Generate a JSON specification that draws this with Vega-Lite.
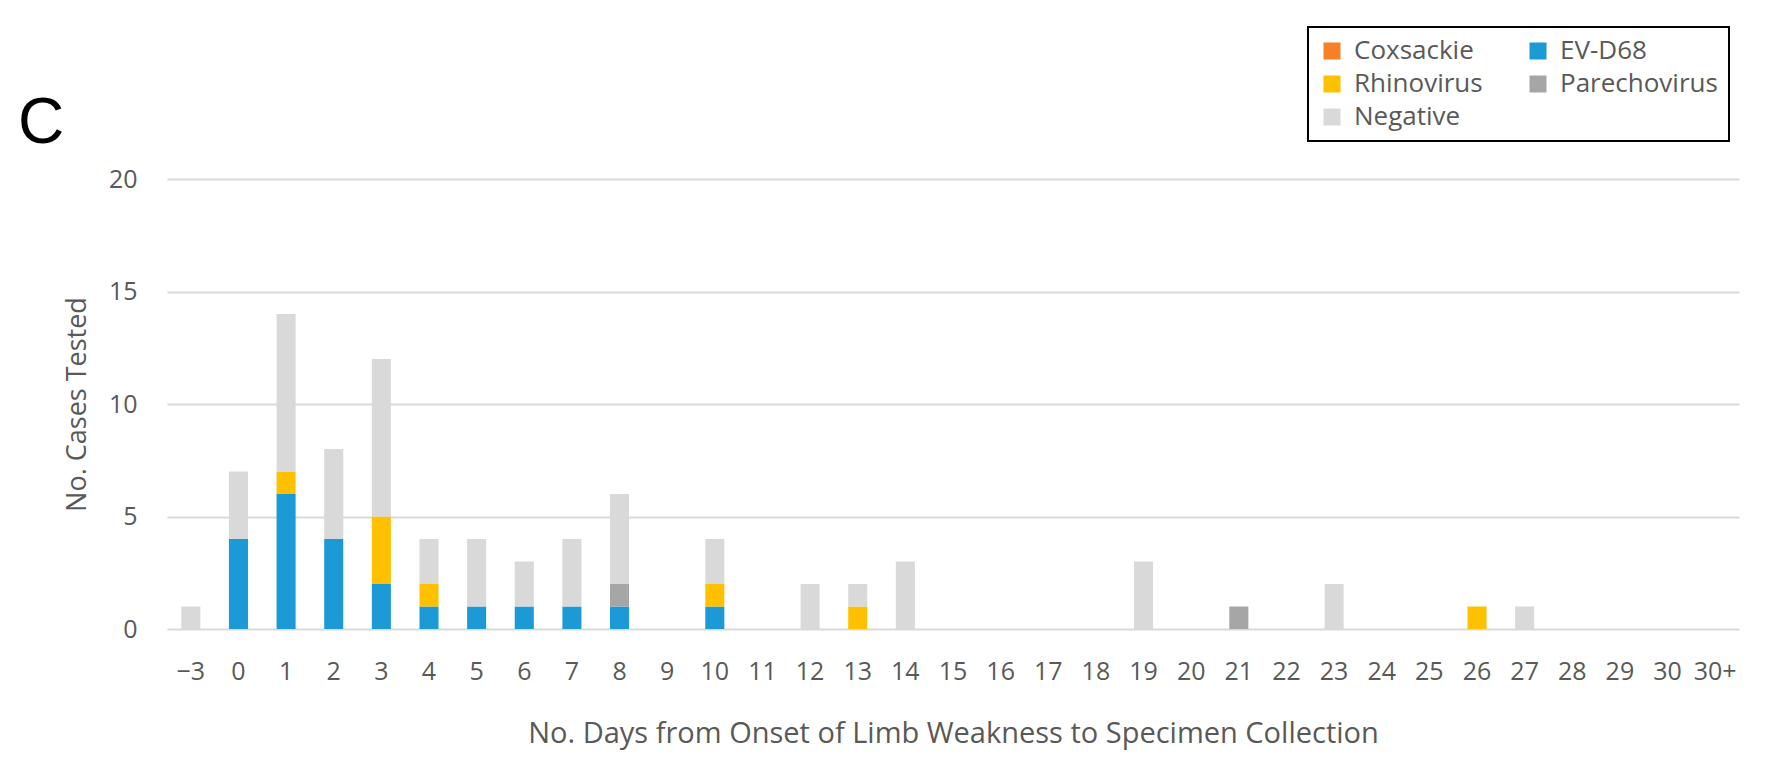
{
  "$schema": "https://vega.github.io/schema/vega-lite/v6.json",
  "width": 1572,
  "height": 450,
  "autosize": {"type": "none"},
  "padding": {"left": 167, "top": 179, "right": 42, "bottom": 131},
  "background": "white",
  "title": {"text": "C", "anchor": "start", "frame": "group", "orient": "top", "font": "Liberation Sans", "fontSize": 64, "fontWeight": "normal", "color": "#000000", "dx": -149, "offset": 29, "dy": 210, "baseline": "alphabetic"},
  "data": {
    "values": [
      {"day": "−3", "type": "Negative", "n": 1},
      {"day": "0", "type": "EV-D68", "n": 4},
      {"day": "0", "type": "Negative", "n": 3},
      {"day": "1", "type": "EV-D68", "n": 6},
      {"day": "1", "type": "Rhinovirus", "n": 1},
      {"day": "1", "type": "Negative", "n": 7},
      {"day": "2", "type": "EV-D68", "n": 4},
      {"day": "2", "type": "Negative", "n": 4},
      {"day": "3", "type": "EV-D68", "n": 2},
      {"day": "3", "type": "Rhinovirus", "n": 3},
      {"day": "3", "type": "Negative", "n": 7},
      {"day": "4", "type": "EV-D68", "n": 1},
      {"day": "4", "type": "Rhinovirus", "n": 1},
      {"day": "4", "type": "Negative", "n": 2},
      {"day": "5", "type": "EV-D68", "n": 1},
      {"day": "5", "type": "Negative", "n": 3},
      {"day": "6", "type": "EV-D68", "n": 1},
      {"day": "6", "type": "Negative", "n": 2},
      {"day": "7", "type": "EV-D68", "n": 1},
      {"day": "7", "type": "Negative", "n": 3},
      {"day": "8", "type": "EV-D68", "n": 1},
      {"day": "8", "type": "Parechovirus", "n": 1},
      {"day": "8", "type": "Negative", "n": 4},
      {"day": "10", "type": "EV-D68", "n": 1},
      {"day": "10", "type": "Rhinovirus", "n": 1},
      {"day": "10", "type": "Negative", "n": 2},
      {"day": "12", "type": "Negative", "n": 2},
      {"day": "13", "type": "Rhinovirus", "n": 1},
      {"day": "13", "type": "Negative", "n": 1},
      {"day": "14", "type": "Negative", "n": 3},
      {"day": "19", "type": "Negative", "n": 3},
      {"day": "21", "type": "Parechovirus", "n": 1},
      {"day": "23", "type": "Negative", "n": 2},
      {"day": "26", "type": "Rhinovirus", "n": 1},
      {"day": "27", "type": "Negative", "n": 1}
    ]
  },
  "transform": [
    {"calculate": "indexof(['Coxsackie', 'EV-D68', 'Rhinovirus', 'Parechovirus', 'Negative'], datum.type)", "as": "stackOrder"}
  ],
  "mark": {"type": "bar"},
  "encoding": {
    "x": {
      "field": "day",
      "type": "ordinal",
      "scale": {
        "domain": ["−3","0","1","2","3","4","5","6","7","8","9","10","11","12","13","14","15","16","17","18","19","20","21","22","23","24","25","26","27","28","29","30","30+"],
        "paddingInner": 0.6,
        "paddingOuter": 0.3
      },
      "axis": {
        "title": "No. Days from Onset of Limb Weakness to Specimen Collection",
        "labelAngle": 0,
        "ticks": false,
        "domain": false,
        "grid": false,
        "labelOverlap": false,
        "labelFont": "Open Sans",
        "labelFontSize": 25,
        "labelColor": "#595959",
        "labelPadding": 30,
        "titleFont": "Open Sans",
        "titleFontSize": 29,
        "titleFontWeight": "normal",
        "titleColor": "#595959",
        "titlePadding": 35
      }
    },
    "y": {
      "field": "n",
      "type": "quantitative",
      "aggregate": "sum",
      "scale": {"domain": [0, 20], "nice": false},
      "axis": {
        "title": "No. Cases Tested",
        "values": [0, 5, 10, 15, 20],
        "ticks": false,
        "domain": false,
        "grid": true,
        "gridColor": "#d9d9d9",
        "gridWidth": 2,
        "labelFont": "Open Sans",
        "labelFontSize": 25,
        "labelColor": "#595959",
        "labelPadding": 30,
        "titleFont": "Open Sans",
        "titleFontSize": 27,
        "titleFontWeight": "normal",
        "titleColor": "#595959",
        "titlePadding": 17
      }
    },
    "order": {"field": "stackOrder", "type": "quantitative", "sort": "ascending"},
    "color": {
      "field": "type",
      "type": "nominal",
      "scale": {
        "domain": ["Coxsackie", "EV-D68", "Rhinovirus", "Parechovirus", "Negative"],
        "range": ["#F58025", "#1B9AD6", "#FFC000", "#A6A6A6", "#D9D9D9"]
      },
      "legend": {
        "title": null,
        "orient": "none",
        "legendX": 1141,
        "legendY": -152,
        "direction": "horizontal",
        "columns": 2,
        "symbolType": "square",
        "symbolSize": 289,
        "symbolStrokeWidth": 0,
        "labelFont": "Open Sans",
        "labelFontSize": 26,
        "labelColor": "#595959",
        "labelOffset": 9,
        "labelLimit": 300,
        "rowPadding": 7,
        "columnPadding": 42,
        "padding": 11,
        "strokeColor": "#000000",
        "fillColor": "#ffffff"
      }
    }
  },
  "config": {
    "view": {"stroke": null},
    "legend": {"strokeWidth": 2}
  }
}
